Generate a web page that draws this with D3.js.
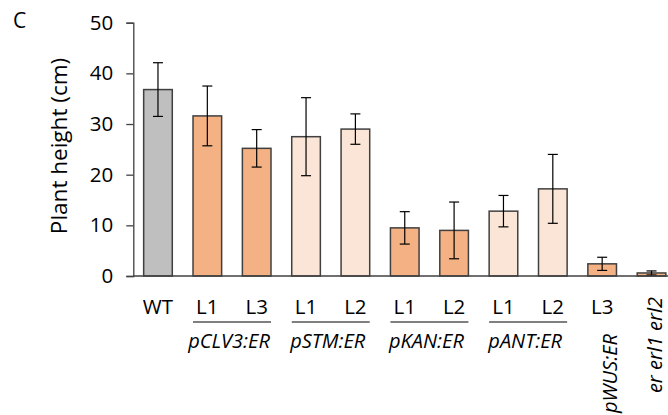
<!DOCTYPE html>
<html>
<head>
<meta charset="utf-8">
<script src="https://cdn.jsdelivr.net/npm/d3@7"></script>
<style>
  body { margin: 0; background: #fff; }
  svg text { font-family: "Open Sans", sans-serif; fill: #000; }
</style>
</head>
<body>
<script>
// plant height per line
var lineLabels = ["WT", "L1", "L3", "L1", "L2", "L1", "L2", "L1", "L2", "L3", ""];
var heights = [36.8, 31.6, 25.2, 27.5, 29.0, 9.5, 9.0, 12.8, 17.2, 2.4, 0.6];
var errors = [5.3, 5.9, 3.7, 7.7, 3.0, 3.2, 5.6, 3.1, 6.8, 1.3, 0.4];
var shades = ["wt", "dark", "dark", "light", "light", "dark", "dark",
              "light", "light", "dark", "dark"];
var yTicks = [0, 10, 20, 30, 40, 50];

// constructs underlined under a pair of lines
var groupNames = ["pCLV3:ER", "pSTM:ER", "pKAN:ER", "pANT:ER"];
var groupStart = [1, 3, 5, 7];
// labels written sideways under a single bar
var sideNames = ["pWUS:ER", "er erl1 erl2"];
var sideBar = [9, 10];

var width = 668, height = 415;

var svg = d3.select("body").append("svg")
    .attr("width", width)
    .attr("height", height);

var x = d3.scaleBand()
    .domain(d3.range(heights.length))
    .range([133.3, 676.2])
    .paddingInner(0.42)
    .paddingOuter(0.21);

var y = d3.scaleLinear().domain([0, 50]).range([276, 22.7]);

var color = d3.scaleOrdinal()
    .domain(["wt", "dark", "light"])
    .range(["#bfbfbf", "#f4b183", "#fbe5d6"]);

// bars
svg.selectAll("rect.bar")
    .data(heights)
    .enter()
    .append("rect")
    .attr("class", "bar")
    .attr("x", function(d, i){ return x(i); })
    .attr("y", function(d){ return y(d); })
    .attr("width", x.bandwidth())
    .attr("height", function(d){ return y(0) - y(d); })
    .style("fill", function(d, i){ return color(shades[i]); })
    .style("stroke", "#404040")
    .style("stroke-width", "1.5px");

// error bars
var err = svg.selectAll("g.err")
    .data(heights)
    .enter()
    .append("g")
    .attr("class", "err")
    .style("stroke", "#000")
    .style("stroke-width", "1.2px");

err.append("line")
    .attr("x1", function(d, i){ return x(i) + x.bandwidth() / 2; })
    .attr("x2", function(d, i){ return x(i) + x.bandwidth() / 2; })
    .attr("y1", function(d, i){ return y(d + errors[i]); })
    .attr("y2", function(d, i){ return y(Math.max(0, d - errors[i])); });

[1, -1].forEach(function(s){
  err.append("line")
    .attr("x1", function(d, i){ return x(i) + x.bandwidth() / 2 - 5; })
    .attr("x2", function(d, i){ return x(i) + x.bandwidth() / 2 + 5; })
    .attr("y1", function(d, i){ return y(Math.max(0, d + s * errors[i])); })
    .attr("y2", function(d, i){ return y(Math.max(0, d + s * errors[i])); });
});

// y axis
var yAxis = d3.axisLeft(y)
    .tickValues(yTicks)
    .tickSize(7)
    .tickPadding(13);

var gy = svg.append("g")
    .attr("transform", "translate(133.3,0)")
    .call(yAxis);
gy.select(".domain").attr("stroke", "#404040").attr("stroke-width", 1.3);
gy.selectAll(".tick line").attr("stroke", "#404040").attr("stroke-width", 1.3);
gy.selectAll(".tick text")
    .style("font-size", "20.5px")
    .attr("fill", "#000");

// x axis line, runs off the right edge like the original
svg.append("line")
    .attr("x1", 133.3)
    .attr("x2", width)
    .attr("y1", y(0))
    .attr("y2", y(0))
    .style("stroke", "#404040")
    .style("stroke-width", "1.3px");

// line labels under each bar
svg.selectAll("text.cat")
    .data(lineLabels)
    .enter()
    .append("text")
    .attr("class", "cat")
    .attr("x", function(d, i){ return x(i) + x.bandwidth() / 2; })
    .attr("y", 314)
    .attr("text-anchor", "middle")
    .style("font-size", "20.5px")
    .text(function(d){ return d; });

// construct groups: underline + italic name
groupNames.forEach(function(name, k){
  var cx = (x(groupStart[k]) + x(groupStart[k] + 1) + x.bandwidth()) / 2;
  svg.append("line")
    .attr("x1", cx - 39)
    .attr("x2", cx + 39)
    .attr("y1", 322)
    .attr("y2", 322)
    .style("stroke", "#000")
    .style("stroke-width", "1.2px");
  svg.append("text")
    .attr("x", cx - 3)
    .attr("y", 348)
    .attr("text-anchor", "middle")
    .style("font-size", "20px")
    .style("font-style", "italic")
    .text(name);
});

// sideways labels
var sideTop = [334, 297];
var sideShift = [15, 10];
sideNames.forEach(function(name, k){
  var cx = x(sideBar[k]) + x.bandwidth() / 2 + sideShift[k];
  svg.append("text")
    .attr("transform", "translate(" + cx + "," + sideTop[k] + ") rotate(-90)")
    .attr("text-anchor", "end")
    .style("font-size", "20px")
    .style("font-style", "italic")
    .text(name);
});

// y axis title
svg.append("text")
    .attr("transform", "translate(67,146) rotate(-90)")
    .attr("text-anchor", "middle")
    .style("font-size", "22.5px")
    .text("Plant height (cm)");

// panel letter
svg.append("text")
    .attr("x", 13)
    .attr("y", 28)
    .style("font-size", "21px")
    .text("C");
</script>
</body>
</html>
